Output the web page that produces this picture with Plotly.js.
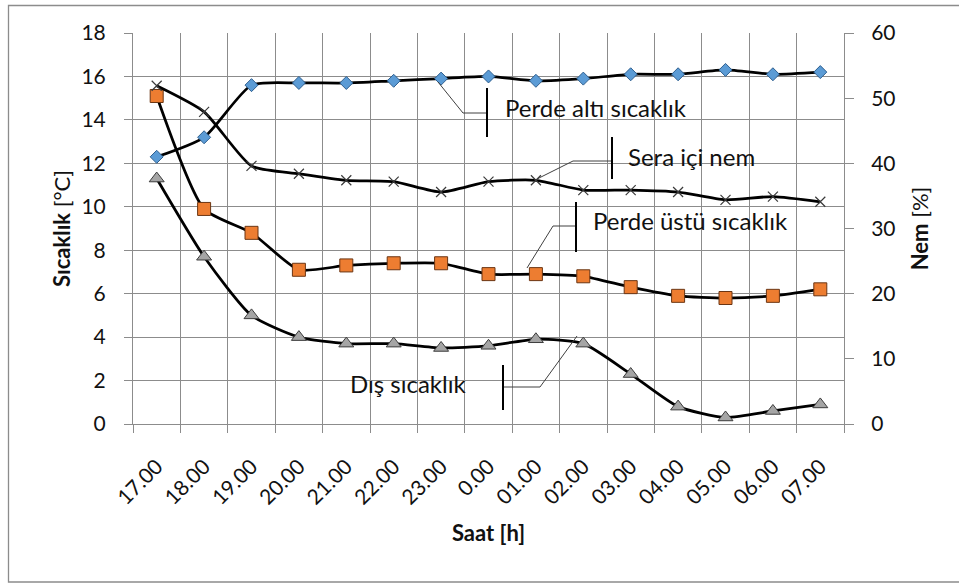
<!DOCTYPE html>
<html>
<head>
<meta charset="utf-8">
<script src="https://cdn.plot.ly/plotly-3.0.1.min.js"></script>
<style>
  html, body { margin: 0; padding: 0; background: #fff; }
  #chart { width: 959px; height: 583px; }
</style>
</head>
<body>
<div id="chart"></div>
<script>
// ---- data ----
var hours = ["17.00","18.00","19.00","20.00","21.00","22.00","23.00","0.00","01.00","02.00","03.00","04.00","05.00","06.00","07.00"];
var perdeAlti = [12.3, 13.2, 15.6, 15.7, 15.7, 15.8, 15.9, 16.0, 15.8, 15.9, 16.1, 16.1, 16.3, 16.1, 16.2];
var perdeUstu = [15.1, 9.9, 8.8, 7.1, 7.3, 7.4, 7.4, 6.9, 6.9, 6.8, 6.3, 5.9, 5.8, 5.9, 6.2];
var disSicaklik = [11.3, 7.7, 5.0, 4.0, 3.7, 3.7, 3.5, 3.6, 3.9, 3.7, 2.3, 0.8, 0.3, 0.6, 0.9];
var seraNem = [51.9, 47.9, 39.6, 38.4, 37.4, 37.2, 35.6, 37.2, 37.4, 35.9, 35.9, 35.6, 34.4, 34.9, 34.1];
var leftTicks = [0, 2, 4, 6, 8, 10, 12, 14, 16, 18];
var rightTicks = [0, 10, 20, 30, 40, 50, 60];

// ---- frame geometry (pixels) ----
var W = 959, H = 583;
var PL = 133, PR = 844, PT = 33, PB = 424;
function px(x) { return (x - PL) / (PR - PL); }
function py(y) { return (PB - y) / (PB - PT); }

var FONT = "Lato, 'Open Sans', sans-serif";
var TXT = "#111111";
var GRID = "#8c8c8c";
var smooth = 0.6;

var traces = [
  {
    x: hours, y: seraNem, yaxis: "y2", type: "scatter", mode: "lines+markers",
    name: "Sera içi nem",
    line: { color: "#000", width: 2.75, shape: "spline", smoothing: smooth },
    marker: { symbol: "x-thin-open", size: 10, color: "#3a3a3a", line: { color: "#3a3a3a", width: 1.2 } }
  },
  {
    x: hours, y: disSicaklik, type: "scatter", mode: "lines+markers",
    name: "Dış sıcaklık",
    line: { color: "#000", width: 2.75, shape: "spline", smoothing: smooth },
    marker: { symbol: "triangle-up", size: 13, color: "#a5a5a5", line: { color: "#3c3c3c", width: 1 } }
  },
  {
    x: hours, y: perdeUstu, type: "scatter", mode: "lines+markers",
    name: "Perde üstü sıcaklık",
    line: { color: "#000", width: 2.75, shape: "spline", smoothing: smooth },
    marker: { symbol: "square", size: 13, color: "#ed7d31", line: { color: "#6b3513", width: 1 } }
  },
  {
    x: hours, y: perdeAlti, type: "scatter", mode: "lines+markers",
    name: "Perde altı sıcaklık",
    line: { color: "#000", width: 2.75, shape: "spline", smoothing: smooth },
    marker: { symbol: "diamond", size: 10, color: "#5b9bd5", line: { color: "#2f5f8f", width: 1 } }
  }
];

// callout geometry in pixels
var callouts = [
  { text: "Perde altı sıcaklık", box: [504, 86, 728, 137], tx: 504, ty: 108,
    lines: [[438, 82, 463, 113], [463, 113, 487, 113]], bar: [487, 88, 487, 137] },
  { text: "Sera içi nem", box: [626, 137, 780, 179], tx: 627, ty: 156,
    lines: [[537, 179, 573, 161], [573, 161, 612, 161]], bar: [612, 137, 612, 179] },
  { text: "Perde üstü sıcaklık", box: [591, 203, 817, 250], tx: 592, ty: 220,
    lines: [[527, 268, 553, 226], [553, 226, 576, 226]], bar: [576, 202, 576, 252] },
  { text: "Dış sıcaklık", box: [345, 363, 490, 410], tx: 349, ty: 383,
    lines: [[577, 336, 540, 387], [540, 387, 503, 387]], bar: [503, 365, 503, 410] }
];

var shapes = [];
var annotations = [];
// outer chart border (right side runs past the page)
shapes.push({ type: "rect", xref: "paper", yref: "paper", layer: "above",
  x0: px(8.5), x1: px(975), y0: py(582), y1: py(5.5),
  line: { color: "#8c8c8c", width: 1.3 }, fillcolor: "rgba(0,0,0,0)" });

callouts.forEach(function (c) {
  shapes.push({ type: "rect", xref: "paper", yref: "paper", layer: "between",
    x0: px(c.box[0]), x1: px(c.box[2]), y0: py(c.box[3]), y1: py(c.box[1]),
    line: { width: 0 }, fillcolor: "#ffffff" });
  c.lines.forEach(function (l) {
    shapes.push({ type: "line", xref: "paper", yref: "paper", layer: "above",
      x0: px(l[0]), y0: py(l[1]), x1: px(l[2]), y1: py(l[3]),
      line: { color: "#404040", width: 1 } });
  });
  shapes.push({ type: "line", xref: "paper", yref: "paper", layer: "above",
    x0: px(c.bar[0]), y0: py(c.bar[1]), x1: px(c.bar[2]), y1: py(c.bar[3]),
    line: { color: "#000", width: 2 } });
  annotations.push({ xref: "paper", yref: "paper", x: px(c.tx), y: py(c.ty),
    xanchor: "left", yanchor: "middle", showarrow: false, text: c.text,
    font: { family: FONT, size: 24, color: TXT }, borderpad: 0 });
});

var layout = {
  width: W, height: H,
  margin: { l: PL, r: W - PR, t: PT, b: H - PB, pad: 0 },
  paper_bgcolor: "#fff", plot_bgcolor: "#fff",
  showlegend: false,
  font: { family: FONT, color: TXT },
  xaxis: {
    type: "category", categoryorder: "array", categoryarray: hours,
    range: [-0.5, 14.5], tickson: "boundaries",
    showgrid: true, gridcolor: GRID, gridwidth: 1,
    showline: true, linecolor: GRID, linewidth: 1,
    ticks: "outside", ticklen: 8, tickcolor: GRID, tickwidth: 1,
    tickangle: -45, tickfont: { family: FONT, size: 21, color: TXT },
    ticklabelstandoff: 21,
    zeroline: false, fixedrange: true,
    title: { text: "<b>Saat [h]</b>", font: { family: FONT, size: 22, color: TXT }, standoff: 17 }
  },
  yaxis: {
    range: [0, 18], tickvals: leftTicks, ticktext: leftTicks.map(String),
    showgrid: true, gridcolor: GRID, gridwidth: 1,
    showline: true, linecolor: GRID, linewidth: 1,
    ticks: "outside", ticklen: 8, tickcolor: GRID, tickwidth: 1,
    tickfont: { family: FONT, size: 21, color: TXT },
    ticklabelstandoff: 14,
    zeroline: false, fixedrange: true,
    title: { text: "<b>Sıcaklık</b> [°C]", font: { family: FONT, size: 22, color: TXT }, standoff: 4 }
  },
  yaxis2: {
    overlaying: "y", side: "right",
    range: [0, 60], tickvals: rightTicks, ticktext: rightTicks.map(String),
    showgrid: false,
    showline: true, linecolor: GRID, linewidth: 1,
    ticks: "outside", ticklen: 9, tickcolor: GRID, tickwidth: 1,
    tickfont: { family: FONT, size: 21, color: TXT },
    ticklabelstandoff: 13,
    zeroline: false, fixedrange: true,
    title: { text: "<b>Nem</b> [%]", font: { family: FONT, size: 22, color: TXT }, standoff: 18 }
  },
  shapes: shapes,
  annotations: annotations
};

Plotly.newPlot("chart", traces, layout, { staticPlot: true, displayModeBar: false });
</script>
</body>
</html>
